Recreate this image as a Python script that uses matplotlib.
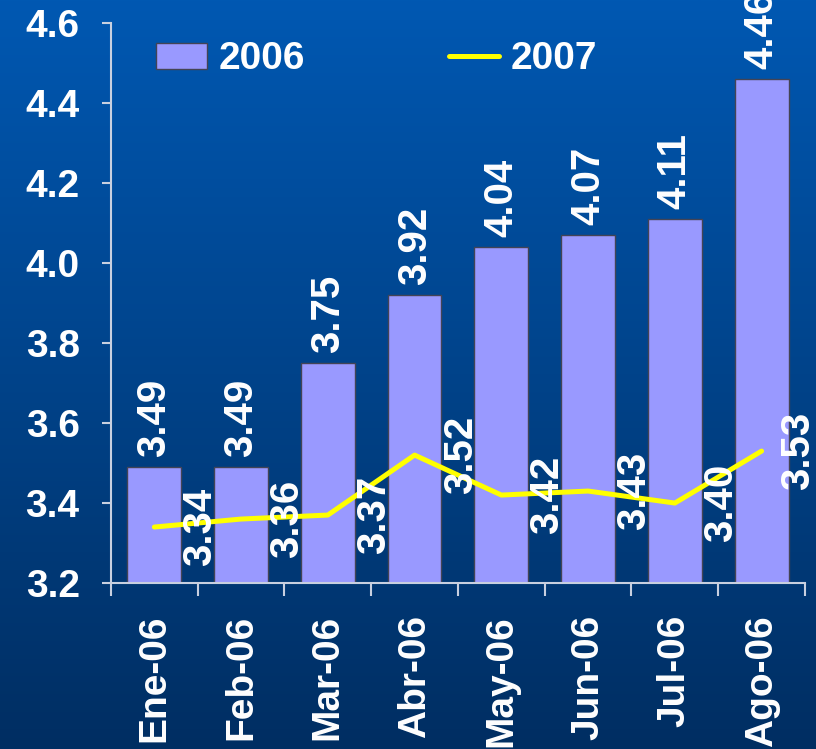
import matplotlib
matplotlib.use('Agg')
import matplotlib.pyplot as plt
import numpy as np

months = ['Ene-06', 'Feb-06', 'Mar-06', 'Abr-06', 'May-06', 'Jun-06', 'Jul-06', 'Ago-06']
values_2006 = [3.49, 3.49, 3.75, 3.92, 4.04, 4.07, 4.11, 4.46]
values_2007 = [3.34, 3.36, 3.37, 3.52, 3.42, 3.43, 3.40, 3.53]
y_ticks = [3.2, 3.4, 3.6, 3.8, 4.0, 4.2, 4.4, 4.6]

plt.rcParams['font.family'] = ['Liberation Sans', 'DejaVu Sans']
plt.rcParams['font.weight'] = 'bold'

fig = plt.figure(figsize=(8.16, 7.49), dpi=100)

# gradient background over the whole figure
bg = fig.add_axes([0, 0, 1, 1], zorder=-1)
top_col = np.array([0, 88, 178]) / 255.0
bot_col = np.array([0, 46, 98]) / 255.0
t = np.linspace(0, 1, 256)[:, None]
grad = top_col[None, :] * (1 - t) + bot_col[None, :] * t
bg.imshow(grad[:, None, :], aspect='auto', extent=[0, 1, 0, 1])
bg.axis('off')

ax = fig.add_axes([0.136, 0.2216, 0.8505, 0.7474])
ax.patch.set_alpha(0)

x = np.arange(len(months))
bars = ax.bar(x, values_2006, width=0.62, color='#9999ff', edgecolor='#444455',
              linewidth=1, label='2006', zorder=2)
line, = ax.plot(x, values_2007, color='#ffff00', linewidth=3.6, label='2007', zorder=3,
                solid_capstyle='round')

for xi, v in zip(x, values_2006):
    ax.annotate('%.2f' % v, (xi, v), xytext=(0, 7), textcoords='offset points',
                rotation=90, ha='center', va='bottom', color='white',
                fontsize=29, fontweight='bold', zorder=4, annotation_clip=False)

# 2007 labels sit to the right of each point; the last one is pulled in to stay on the chart
for i, (xi, v) in enumerate(zip(x, values_2007)):
    dx = 0.42 if i == len(x) - 1 else 0.53
    ax.text(xi + dx, v, '%.2f' % v, rotation=90, ha='center', va='center',
            color='white', fontsize=29, fontweight='bold', zorder=4, clip_on=False)

ax.set_xlim(-0.5, len(months) - 0.5)
ax.set_ylim(3.2, 4.6)
ax.set_yticks(y_ticks)
ax.set_yticklabels(['%.1f' % v for v in y_ticks], color='white', fontsize=28,
                   fontweight='bold')
ax.set_xticks(np.arange(len(months) + 1) - 0.5)
ax.set_xticklabels([])
ax.set_xticks(x, minor=True)
ax.set_xticklabels(months, minor=True, rotation=90, color='white', fontsize=28,
                   fontweight='bold')
ax.tick_params(axis='x', which='minor', length=0, pad=23)
ax.tick_params(axis='x', which='major', length=9.5, width=1.5, color='#c8d0e0')
ax.tick_params(axis='y', length=6.5, width=1.5, color='#c8d0e0', pad=16)

for side in ['top', 'right']:
    ax.spines[side].set_visible(False)
for side in ['left', 'bottom']:
    ax.spines[side].set_color('#c8d0e0')
    ax.spines[side].set_linewidth(1.5)

leg = ax.legend([bars, line], ['2006', '2007'], loc='upper left',
                bbox_to_anchor=(0.015, 1.03), ncol=2, frameon=False,
                prop={'weight': 'bold', 'size': 28},
                handlelength=1.3, handleheight=0.65, columnspacing=3.7, handletextpad=0.3)
for txt in leg.get_texts():
    txt.set_color('white')

fig.savefig('out.png', dpi=100)
